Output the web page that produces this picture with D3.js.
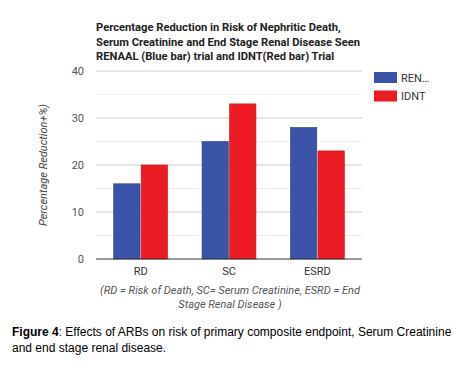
<!DOCTYPE html>
<html>
<head>
<meta charset="utf-8">
<script src="https://cdn.jsdelivr.net/npm/d3@7"></script>
<style>
  body { margin: 0; background: #fff; }
  svg { display: block; }
</style>
</head>
<body>
<div id="wrapper"></div>
<script>
// data
const categories = ["RD", "SC", "ESRD"];
const seriesNames = ["REN…", "IDNT"];
const renaalValues = [16, 25, 28];
const idntValues = [20, 33, 23];
const yTicks = [0, 10, 20, 30, 40];
const titleLines = [
  "Percentage Reduction in Risk of Nephritic Death,",
  "Serum Creatinine and End Stage Renal Disease Seen",
  "RENAAL (Blue bar) trial and IDNT(Red bar) Trial",
];
const noteLines = [
  "(RD = Risk of Death, SC= Serum Creatinine, ESRD = End",
  "Stage Renal Disease )",
];

const colors = ["#3a53a6", "#ec1c24"];

const dimensions = {
  width: 475,
  height: 372,
  margin: { top: 71, right: 113, bottom: 113, left: 96 },
};
dimensions.boundedWidth =
  dimensions.width - dimensions.margin.left - dimensions.margin.right;
dimensions.boundedHeight =
  dimensions.height - dimensions.margin.top - dimensions.margin.bottom;

const wrapper = d3
  .select("#wrapper")
  .append("svg")
  .attr("width", dimensions.width)
  .attr("height", dimensions.height)
  .style("font-family", "Roboto, sans-serif");

const bounds = wrapper
  .append("g")
  .attr("transform", `translate(${dimensions.margin.left},${dimensions.margin.top})`);

// scales
const xScale = d3
  .scaleBand()
  .domain(categories)
  .range([0, dimensions.boundedWidth])
  .paddingInner(0.39)
  .paddingOuter(0.2);

const seriesScale = d3
  .scaleBand()
  .domain([0, 1])
  .range([0, xScale.bandwidth()])
  .paddingInner(0.04);

const yScale = d3
  .scaleLinear()
  .domain([0, 40])
  .range([dimensions.boundedHeight, 0]);

// gridlines (major + minor)
bounds
  .append("g")
  .selectAll("line")
  .data(d3.range(5, 40, 10))
  .join("line")
  .attr("x1", 0)
  .attr("x2", dimensions.boundedWidth)
  .attr("y1", (d) => yScale(d))
  .attr("y2", (d) => yScale(d))
  .attr("stroke", "#eeeeee");

bounds
  .append("g")
  .selectAll("line")
  .data(yTicks.slice(1))
  .join("line")
  .attr("x1", 0)
  .attr("x2", dimensions.boundedWidth)
  .attr("y1", (d) => yScale(d))
  .attr("y2", (d) => yScale(d))
  .attr("stroke", "#cccccc");

// bars
const rows = categories.map((c, i) => ({
  cat: c,
  values: [renaalValues[i], idntValues[i]],
}));

const groups = bounds
  .append("g")
  .selectAll("g")
  .data(rows)
  .join("g")
  .attr("transform", (d) => `translate(${xScale(d.cat)},0)`);

groups
  .selectAll("rect")
  .data((d) => d.values.map((v, s) => ({ v, s })))
  .join("rect")
  .attr("x", (d) => seriesScale(d.s))
  .attr("y", (d) => yScale(d.v))
  .attr("width", seriesScale.bandwidth())
  .attr("height", (d) => dimensions.boundedHeight - yScale(d.v))
  .attr("fill", (d) => colors[d.s])
  .attr("stroke", (d) => d3.color(colors[d.s]).darker(0.6))
  .attr("stroke-width", 0.6);

// baseline
bounds
  .append("line")
  .attr("x1", 0)
  .attr("x2", dimensions.boundedWidth)
  .attr("y1", dimensions.boundedHeight)
  .attr("y2", dimensions.boundedHeight)
  .attr("stroke", "#333");

// axes
const yAxis = bounds
  .append("g")
  .call(d3.axisLeft(yScale).tickValues(yTicks).tickSize(0).tickPadding(12));
yAxis.select(".domain").remove();
yAxis
  .selectAll("text")
  .attr("fill", "#555")
  .style("font-size", "11px")
  .style("font-family", "Roboto, sans-serif");

const xAxis = bounds
  .append("g")
  .attr("transform", `translate(0,${dimensions.boundedHeight})`)
  .call(d3.axisBottom(xScale).tickSize(0).tickPadding(8));
xAxis.select(".domain").remove();
xAxis
  .selectAll("text")
  .attr("fill", "#333")
  .style("font-size", "11px")
  .style("font-family", "Roboto, sans-serif");

// y label
wrapper
  .append("text")
  .attr("transform", `translate(47,${dimensions.margin.top + dimensions.boundedHeight / 2}) rotate(-90)`)
  .attr("text-anchor", "middle")
  .attr("fill", "#444")
  .style("font-size", "11px")
  .style("font-style", "italic")
  .text("Percentage Reduction+%)");

// title
wrapper
  .append("g")
  .selectAll("text")
  .data(titleLines)
  .join("text")
  .attr("x", dimensions.margin.left)
  .attr("y", (d, i) => 31 + i * 14.5)
  .attr("fill", "#222")
  .style("font-size", "11.2px")
  .style("font-weight", "bold")
  .text((d) => d);

// legend
const legend = wrapper
  .append("g")
  .attr("transform", "translate(374,72)");
const legendItems = legend
  .selectAll("g")
  .data(seriesNames)
  .join("g")
  .attr("transform", (d, i) => `translate(0,${i * 18.5})`);
legendItems
  .append("rect")
  .attr("width", 23)
  .attr("height", 11)
  .attr("fill", (d, i) => colors[i]);
legendItems
  .append("text")
  .attr("x", 27)
  .attr("y", 9.5)
  .attr("fill", "#333")
  .style("font-size", "11px")
  .text((d) => d);

// note under the axis
wrapper
  .append("g")
  .selectAll("text")
  .data(noteLines)
  .join("text")
  .attr("x", 230)
  .attr("y", (d, i) => 294 + i * 14)
  .attr("text-anchor", "middle")
  .attr("fill", "#555")
  .style("font-size", "11px")
  .style("font-style", "italic")
  .text((d) => d);

// figure caption
const caption = wrapper
  .append("text")
  .attr("fill", "#000")
  .style("font-family", "'Liberation Sans', Arial, sans-serif")
  .style("font-size", "12px");
const line1 = caption.append("tspan").attr("x", 12).attr("y", 336);
line1.append("tspan").style("font-weight", "bold").text("Figure 4");
line1
  .append("tspan")
  .text(": Effects of ARBs on risk of primary composite endpoint, Serum Creatinine");
caption
  .append("tspan")
  .attr("x", 12)
  .attr("y", 352)
  .text("and end stage renal disease.");
</script>
</body>
</html>
